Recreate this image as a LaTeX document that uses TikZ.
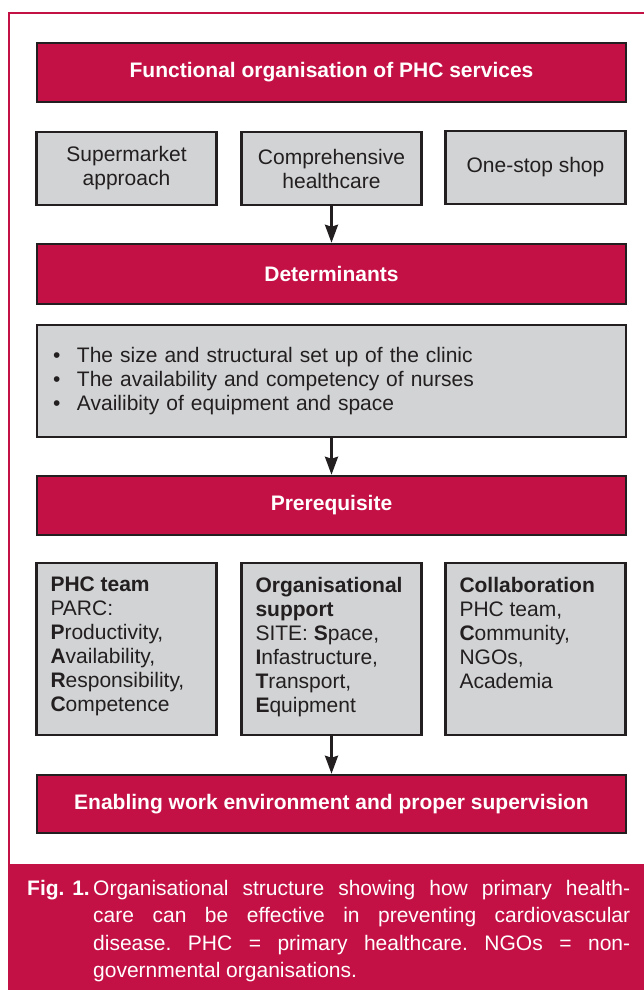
\documentclass[tikz,border=0pt]{standalone}
\usepackage{fontspec}
\setmainfont{Liberation Sans}
\usetikzlibrary{arrows.meta}
\definecolor{phcred}{HTML}{C41145}
\definecolor{phcgrey}{HTML}{D1D3D4}
\definecolor{phcdark}{HTML}{231F20}

\begin{document}
\begin{tikzpicture}
[x=1pt,y=-1pt,%
  every node/.style={shape=rectangle,inner sep=0pt,font=\fontsize{21}{24}\selectfont},%
  headbox/.style={draw=phcdark,line width=2.5pt,fill=phcred,text=white,%
    font=\fontsize{21}{24}\selectfont\bfseries,minimum width=589pt,minimum height=59pt},%
  greybox/.style={draw=phcdark,line width=2.5pt,fill=phcgrey,text=phcdark,%
    align=center,minimum width=180pt,minimum height=73pt},%
  flowarrow/.style={draw=phcdark,line width=2.5pt,-{Stealth[length=18pt,width=13pt,inset=2pt]}}]
\useasboundingbox (0,0) rectangle (644,990);
%% frame and caption band
\draw[phcred,line width=1.5pt] (644,13) -- (9,13) -- (9,864);
\fill[phcred] (8.25,864) rectangle (644,990);
%%
\node[headbox] (fos) at (331.5,72.5) {Functional organisation of PHC services};
%%
\node[greybox] (supermkt) at (126.5,168.5) {Supermarket\\approach};
\node[greybox] (comphc) at (331.5,168.5) {Comprehensive\\healthcare};
\node[greybox] (onestop) at (535.5,167.5) {One-stop shop};
%%
\node[headbox,minimum height=60pt] (determ) at (331.5,274) {Determinants};
\node[greybox,minimum width=589pt,minimum height=112pt,text width=557pt,align=left]
  (detlist) at (331.5,381)
  {\makebox[24pt][l]{\textbullet}The size and structural set up of the clinic\\
   \makebox[24pt][l]{\textbullet}The availability and competency of nurses\\
   \makebox[24pt][l]{\textbullet}Availibity of equipment and space};
%%
\node[headbox] (prereq) at (331.5,505.5) {Prerequisite};
%%
\node[greybox,inner xsep=14pt,inner ysep=14pt] (team) at (126.5,649)
  {\parbox[t][144pt][t]{152pt}{\raggedright
   \textbf{PHC team}\\PARC:\\\textbf{P}roductivity,\\\textbf{A}vailability,\\
   \textbf{R}esponsibility,\\\textbf{C}ompetence}};
\node[greybox,inner xsep=14pt,inner ysep=14pt] (orgsup) at (331.5,649)
  {\parbox[t][144pt][t]{152pt}{\raggedright
   \textbf{Organisational}\\\textbf{support}\\SITE: \textbf{S}pace,\\\textbf{I}nfastructure,\\
   \textbf{T}ransport,\\\textbf{E}quipment}};
\node[greybox,inner xsep=14pt,inner ysep=14pt] (collab) at (535.5,649)
  {\parbox[t][144pt][t]{152pt}{\raggedright
   \textbf{Collaboration}\\PHC team,\\\textbf{C}ommunity,\\NGOs,\\Academia}};
%%
\node[headbox,minimum height=58pt] (enabling) at (331.5,804)
  {Enabling work environment and proper supervision};
%% caption
\node[text=white,anchor=base west,font=\fontsize{21}{27.5}\selectfont\bfseries]
  (figno) at (27,895) {Fig. 1.};
\node[text=white,text width=537pt,align=justify,anchor=base west,
  font=\fontsize{21}{27.5}\selectfont] (figcap) at (93,895)
  {\frenchspacing\tolerance=10000\hyphenpenalty=10000
   Organisational structure showing how primary health-\linebreak
   care can be effective in preventing cardiovascular\linebreak
   disease. PHC = primary healthcare. NGOs = non-\linebreak
   governmental organisations.};
\path
\foreach \startNode/\endNode in {comphc/determ, detlist/prereq, orgsup/enabling}
{
  (\startNode) edge[flowarrow] (\endNode)
};
\end{tikzpicture}
\end{document}
